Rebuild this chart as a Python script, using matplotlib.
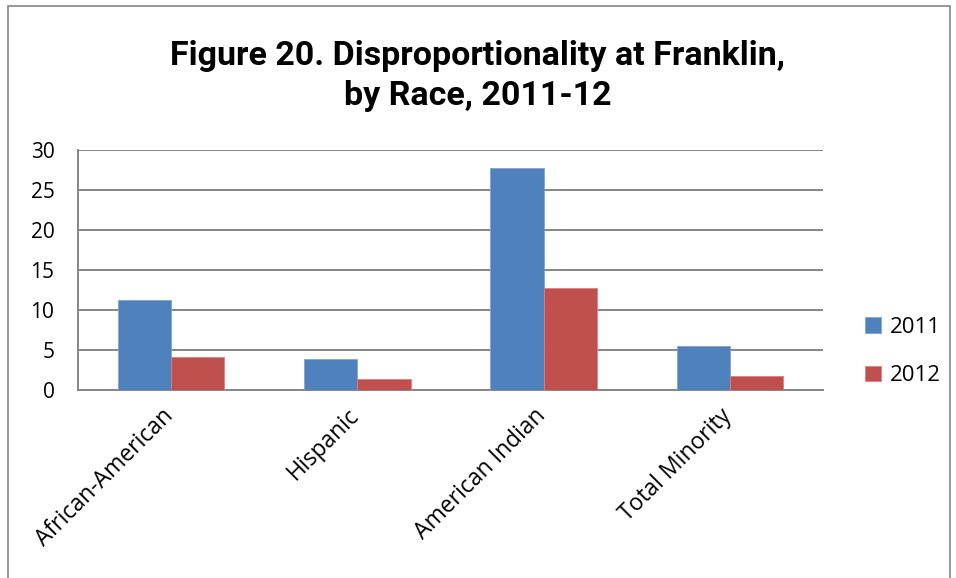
import matplotlib
matplotlib.use("Agg")
import matplotlib.pyplot as plt
import matplotlib.transforms as mtransforms
import numpy as np
from matplotlib.patches import Rectangle

categories = ["African-American", "Hispanic", "American Indian", "Total Minority"]
series_names = ["2011", "2012"]
values_2011 = [11.2, 3.9, 27.8, 5.5]
values_2012 = [4.15, 1.4, 12.8, 1.7]
colors = ["#4F81BD", "#C0504D"]

plt.rcParams["font.family"] = ["Open Sans", "DejaVu Sans"]

fig = plt.figure(figsize=(9.56, 5.78), dpi=100)
ax = fig.add_axes([78 / 956, 1 - 390 / 578, 745 / 956, 240 / 578])

x = np.arange(len(categories))
width = 0.2857
ax.bar(x - width / 2, values_2011, width, color=colors[0], label=series_names[0],
       edgecolor="#7FA3D3", linewidth=0.6, zorder=3)
ax.bar(x + width / 2, values_2012, width, color=colors[1], label=series_names[1],
       edgecolor="#D8807E", linewidth=0.6, zorder=3)

ax.set_xlim(-0.5, len(categories) - 0.5)
ax.set_ylim(0, 30)
ax.set_yticks(range(0, 31, 5))
ax.yaxis.grid(True, color="#868686", linewidth=1.4, zorder=0)
ax.set_axisbelow(True)
for side in ["top", "right"]:
    ax.spines[side].set_visible(False)
ax.spines["left"].set_color("#868686")
ax.spines["left"].set_linewidth(1.4)
ax.spines["bottom"].set_color("#868686")
ax.spines["bottom"].set_linewidth(1.4)
ax.tick_params(axis="y", length=0, labelsize=15, pad=17)
ax.tick_params(axis="x", length=0, labelsize=16.5, pad=10)
ax.set_xticks(x)
ax.set_xticklabels(categories, rotation=45, ha="right", rotation_mode="anchor")

# nudge the rotated labels a bit left, like the original
shift = mtransforms.ScaledTranslation(-10 / 100, 0, fig.dpi_scale_trans)
for lbl in ax.get_xticklabels():
    lbl.set_transform(lbl.get_transform() + shift)

fig.text(0.5, 1 - 76 / 578, "Figure 20. Disproportionality at Franklin,\nby Race, 2011-12",
         ha="center", va="center", fontsize=24.5, fontweight="bold", linespacing=1.3,
         family=["Roboto", "DejaVu Sans"])

leg = ax.legend(loc="center left", bbox_to_anchor=(1.03, 0.16), frameon=False,
                fontsize=16, handlelength=0.7, handleheight=0.7,
                labelspacing=1.25, handletextpad=0.4)

# outer chart border
fig.patches.append(Rectangle((8 / 956, -0.05), 942 / 956, 1 - 6 / 578 + 0.05,
                             transform=fig.transFigure, fill=False,
                             edgecolor="#868686", linewidth=1.2))

fig.savefig("out.png", dpi=100)
